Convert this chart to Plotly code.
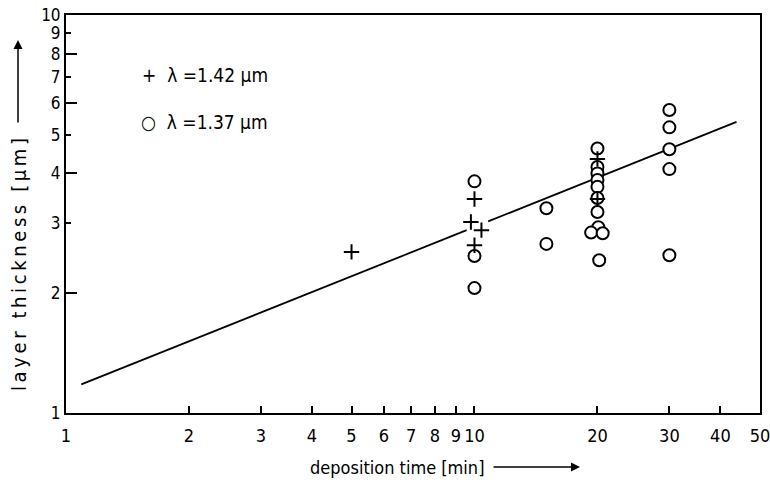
import math
import plotly.graph_objects as go

# ---- data ----
plus_x = [5, 10, 9.8, 10.4, 10, 20, 20]
plus_y = [2.54, 3.45, 3.02, 2.88, 2.64, 4.35, 3.45]

circ_x = [10, 10, 10, 15, 15,
          20, 20, 20, 20, 20, 20, 20, 20.1, 19.3, 20.6, 20.2,
          30, 30, 30, 30, 30]
circ_y = [3.82, 2.48, 2.06, 3.27, 2.66,
          4.62, 4.15, 4.0, 3.85, 3.7, 3.47, 3.2, 2.93, 2.84, 2.83, 2.42,
          5.77, 5.22, 4.6, 4.1, 2.49]

line_x = [1.09, 9.57, None, 10.8, 43.8]
line_y = [1.18, 2.88, None, 3.03, 5.39]

x_ticks = [1, 2, 3, 4, 5, 6, 7, 8, 9, 10, 20, 30, 40, 50]
x_ticktext = ["1", "2", "3", "4", "5", "6", "7", "8", "9", "10", "20", "30", "40", "50"]
y_ticks = [1, 2, 3, 4, 5, 6, 7, 8, 9, 10]
y_ticktext = [str(v) for v in y_ticks]
y_long_ticks = [2, 4, 6, 8, 10]

legend_plus = "λ =1.42 µm"
legend_circ = "λ =1.37 µm"
x_title = "deposition time [min]"
y_title = "layer thickness [µm]"

FONT = "DejaVu Sans Condensed, Liberation Sans Narrow, Arial Narrow, sans-serif"

fig = go.Figure()
fig.add_trace(go.Scatter(x=line_x, y=line_y, mode="lines",
                         line=dict(color="black", width=1.8),
                         showlegend=False, connectgaps=False, hoverinfo="skip"))
fig.add_trace(go.Scatter(x=circ_x, y=circ_y, mode="markers",
                         marker=dict(symbol="circle", size=12, color="white",
                                     line=dict(color="black", width=2)),
                         showlegend=False))
fig.add_trace(go.Scatter(x=plus_x, y=plus_y, mode="markers",
                         marker=dict(symbol="cross-thin", size=11,
                                     line=dict(color="black", width=2)),
                         showlegend=False))

L, R, T, B = 66, 760, 15, 413
W, H = 770, 482


def px(xp):
    return (xp - L) / (R - L)


def py(yp):
    return (B - yp) / (B - T)


fig.update_xaxes(type="log", range=[0, math.log10(max(x_ticks)) + 1e-5],
                 tickvals=x_ticks, ticktext=x_ticktext,
                 ticks="inside", ticklen=7, tickwidth=1.5, tickcolor="black",
                 ticklabelstandoff=5, ticklabeloverflow="allow",
                 showline=True, linecolor="black", linewidth=2, mirror=True,
                 showgrid=False, zeroline=False, automargin=False,
                 tickfont=dict(family=FONT, size=18, color="black"))
fig.update_yaxes(type="log", range=[0, 1 + 1e-5], tickvals=y_ticks, ticktext=y_ticktext,
                 ticks="inside", ticklen=5, tickwidth=1.5, tickcolor="black",
                 ticklabeloverflow="allow",
                 minor=dict(tickvals=y_long_ticks, ticks="inside", ticklen=11,
                            tickwidth=1.5, tickcolor="black", showgrid=False),
                 showline=True, linecolor="black", linewidth=2, mirror=True,
                 showgrid=False, zeroline=False, automargin=False,
                 tickfont=dict(family=FONT, size=17, color="black"))

ann = []
# legend
ann.append(dict(x=px(140), y=py(75), xref="paper", yref="paper", xanchor="left",
                yanchor="middle", showarrow=False,
                text="+  " + legend_plus, font=dict(family=FONT, size=19, color="black")))
ann.append(dict(x=px(139), y=py(122), xref="paper", yref="paper", xanchor="left",
                yanchor="middle", showarrow=False,
                text="○  " + legend_circ, font=dict(family=FONT, size=19, color="black")))
# axis titles
ann.append(dict(x=px(397), y=py(467), xref="paper", yref="paper", showarrow=False,
                xanchor="center", yanchor="middle",
                text=x_title, font=dict(family=FONT, size=18, color="black")))
ann.append(dict(x=px(19), y=py(263), xref="paper", yref="paper", showarrow=False,
                xanchor="center", yanchor="middle", textangle=-90,
                text='<span style="letter-spacing:3.6px">' + y_title + '</span>',
                font=dict(family=FONT, size=20, color="black")))
# arrows
ann.append(dict(x=px(580), y=py(467), xref="paper", yref="paper", text="",
                showarrow=True, ax=-88, ay=0, arrowhead=2, arrowsize=1.2,
                arrowwidth=1.5, arrowcolor="black"))
ann.append(dict(x=px(18), y=py(40), xref="paper", yref="paper", text="",
                showarrow=True, ax=0, ay=84, arrowhead=2, arrowsize=1.2,
                arrowwidth=1.5, arrowcolor="black"))

fig.update_layout(width=W, height=H,
                  margin=dict(l=L, r=W - R, t=T, b=H - B, autoexpand=False),
                  paper_bgcolor="white", plot_bgcolor="white",
                  annotations=ann, showlegend=False)

fig.write_html("out.html", config={"displayModeBar": False},
               post_script="document.body.style.margin='0';document.body.style.overflow='hidden';")
